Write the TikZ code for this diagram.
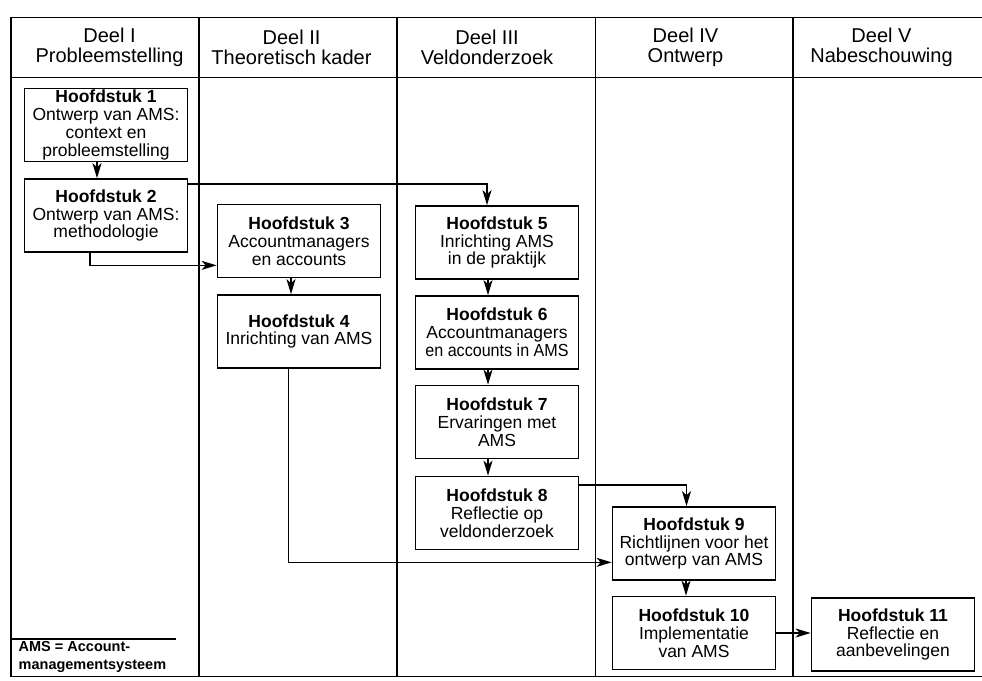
\documentclass[tikz,border=0pt]{standalone}
\usepackage{fontspec}
\setmainfont{Liberation Sans}
\usetikzlibrary{arrows.meta,calc}

\begin{document}
\begin{tikzpicture}[x=1pt,y=-1pt,
  frameline/.style={line width=1.7pt},
  chapter/.style={draw,line width=1.7pt,minimum width=163pt,minimum height=73pt,
    inner sep=0pt,align=center,font=\fontsize{17.5}{17.8}\selectfont},
  heading/.style={align=center,inner sep=0pt,font=\fontsize{20}{20.5}\selectfont},
  flow/.style={line width=1.4pt,-{Stealth[length=15pt,width=9pt,inset=4pt]}},
]
\useasboundingbox (0,0) rectangle (982,680);

% frame with the five columns
\draw[frameline] (982,17.5) -- (11,17.5) -- (11,676.5) -- (982,676.5);
\draw[frameline] (11,77.5) -- (982,77.5);
\foreach \x in {199,397,595.5,793}
  \draw[frameline] (\x,17.5) -- (\x,676.5);

% column headings
\node[heading] (d1) at (109.5,47.5) {Deel I\\Probleemstelling};
\node[heading] (d2) at (291.5,47.5) {Deel II\\Theoretisch kader};
\node[heading] (d3) at (487,47.5) {Deel III\\Veldonderzoek};
\node[heading] (d4) at (685.5,47.5) {Deel IV\\Ontwerp};
\node[heading] (d5) at (881.5,47.5) {Deel V\\Nabeschouwing};

% chapters
\node[chapter] (h1) at (106,125) {\textbf{Hoofdstuk 1}\\Ontwerp van AMS:\\context en\\probleemstelling};
\node[chapter] (h2) at (106,215.5) {\textbf{Hoofdstuk 2}\\Ontwerp van AMS:\\methodologie};
\node[chapter] (h3) at (299,241) {\textbf{Hoofdstuk 3}\\Accountmanagers\\en accounts};
\node[chapter] (h4) at (299,331.5) {\textbf{Hoofdstuk 4}\\Inrichting van AMS};
\node[chapter] (h5) at (497,242.5) {\textbf{Hoofdstuk 5}\\Inrichting AMS\\in de praktijk};
\node[chapter] (h6) at (497,332.5) {\textbf{Hoofdstuk 6}\\Accountmanagers\\\scalebox{0.92}[1]{en accounts in AMS}};
\node[chapter] (h7) at (497,422) {\textbf{Hoofdstuk 7}\\Ervaringen met\\AMS};
\node[chapter] (h8) at (497,513) {\textbf{Hoofdstuk 8}\\Reflectie op\\veldonderzoek};
\node[chapter] (h9) at (694,543.5) {\textbf{Hoofdstuk 9}\\Richtlijnen voor het\\ontwerp van AMS};
\node[chapter] (h10) at (694,633) {\textbf{Hoofdstuk 10}\\Implementatie\\van AMS};
\node[chapter] (h11) at (893,634.5) {\textbf{Hoofdstuk 11}\\Reflectie en\\aanbevelingen};

% reading order
\draw[flow] ($(h1.south)+(-9,0)$) -- ($(h2.north)+(-9,0)$);
\draw[flow] ($(h2.north east)+(0,6)$) -| ($(h5.north)+(-10,0)$);
\draw[flow] ($(h2.south)+(-16,0)$) |- ($(h3.south west)+(0,-13)$);
\draw[flow] ($(h3.south)+(-8,0)$) -- ($(h4.north)+(-8,0)$);
\draw[flow] ($(h4.south)+(-10.5,0)$) |- ($(h9.south west)+(0,-18.5)$);
\draw[flow] ($(h5.south)+(-9,0)$) -- ($(h6.north)+(-9,0)$);
\draw[flow] ($(h6.south)+(-9,0)$) -- ($(h7.north)+(-9,0)$);
\draw[flow] ($(h7.south)+(-9,0)$) -- ($(h8.north)+(-9,0)$);
\draw[flow] ($(h8.north east)+(0,9.5)$) -| ($(h9.north)+(-7.5,0)$);
\draw[flow] ($(h9.south)+(-8,0)$) -- ($(h10.north)+(-8,0)$);
\draw[flow] (h10.east) -- (h10.east -| h11.west);

% abbreviation note
\draw[line width=1.3pt] (11,639) -- (176,639);
\node[anchor=west,align=left,inner sep=0pt,
  font=\bfseries\fontsize{14.5}{17.7}\selectfont] (note) at (18.5,657)
  {AMS = Account-\\managementsysteem};
\end{tikzpicture}
\end{document}
